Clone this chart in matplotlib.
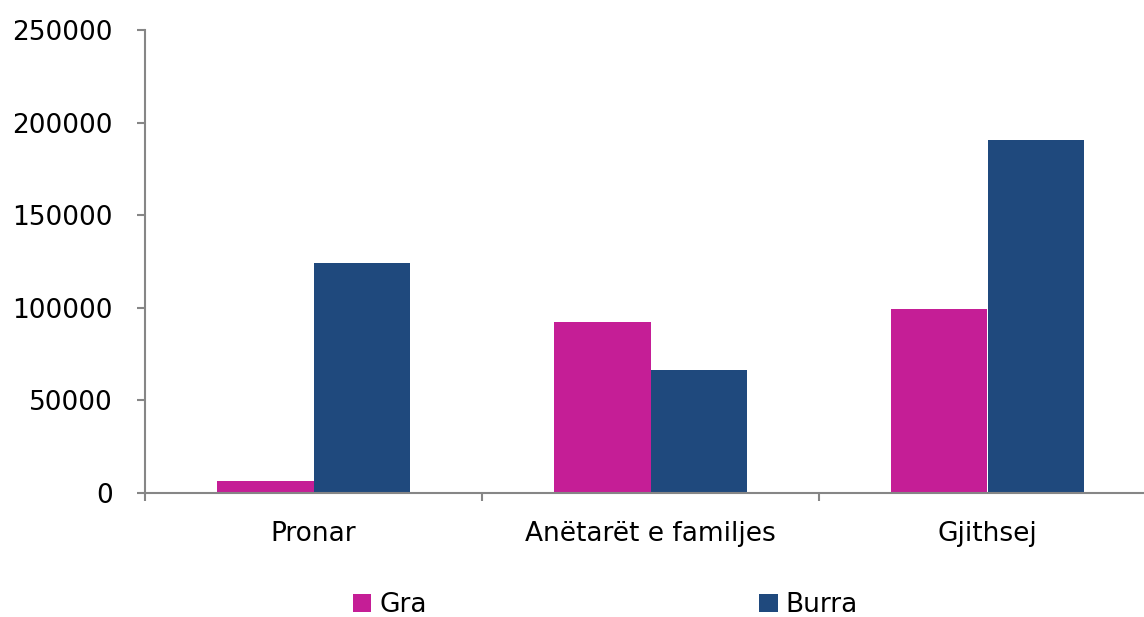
#!/usr/bin/env python3
import numpy as np
import matplotlib
matplotlib.use("Agg")
import matplotlib.pyplot as plt

categories = ["Pronar", "Anëtarët e familjes", "Gjithsej"]
series_names = ["Gra", "Burra"]
gra = [6500, 92300, 99300]
burra = [124200, 66400, 190600]
y_ticks = [0, 50000, 100000, 150000, 200000, 250000]

colors = ["#C51E96", "#1F497D"]
axis_gray = "#868686"
fs = 19

plt.rcParams['font.family'] = ['DejaVu Sans']

fig = plt.figure(figsize=(11.44, 6.17), dpi=100)
W, H = 1144, 617
# axes: y axis at x=145, top y=30 (250000), bottom y=493 (0); category width ~337 px
left, right = 145, 145 + 3 * 337
top, bottom = 30, 493
ax = fig.add_axes([left / W, 1 - bottom / H, (right - left) / W, (bottom - top) / H])

x = np.arange(len(categories))
width = 0.285
ax.bar(x - width / 2, gra, width, color=colors[0], label=series_names[0])
ax.bar(x + width / 2, burra, width, color=colors[1], label=series_names[1])

ax.set_xlim(-0.5, len(categories) - 0.5)
ax.set_ylim(0, 250000)
ax.set_yticks(y_ticks)
ax.set_yticklabels([str(v) for v in y_ticks])

# category ticks between groups, labels centred
ax.set_xticks(np.arange(-0.5, len(categories)), minor=False)
ax.set_xticklabels([])
ax.set_xticks(x, minor=True)
ax.set_xticklabels(categories, minor=True)
ax.tick_params(axis='x', which='minor', length=0, pad=20, labelsize=fs)
ax.tick_params(axis='x', which='major', length=6, width=1.5, color=axis_gray)
ax.tick_params(axis='y', length=6, width=1.5, color=axis_gray, pad=17, labelsize=fs)

for s in ['top', 'right']:
    ax.spines[s].set_visible(False)
for s in ['left', 'bottom']:
    ax.spines[s].set_color(axis_gray)
    ax.spines[s].set_linewidth(1.5)

# legend at the bottom
handles, labels = ax.get_legend_handles_labels()
fig.legend(handles, labels, loc='center', bbox_to_anchor=(0.529, 1 - 605 / H),
           ncol=2, frameon=False, fontsize=fs, handlelength=0.7, handleheight=0.7,
           handletextpad=0.3, columnspacing=12.6)

fig.savefig("out.png", dpi=100)
